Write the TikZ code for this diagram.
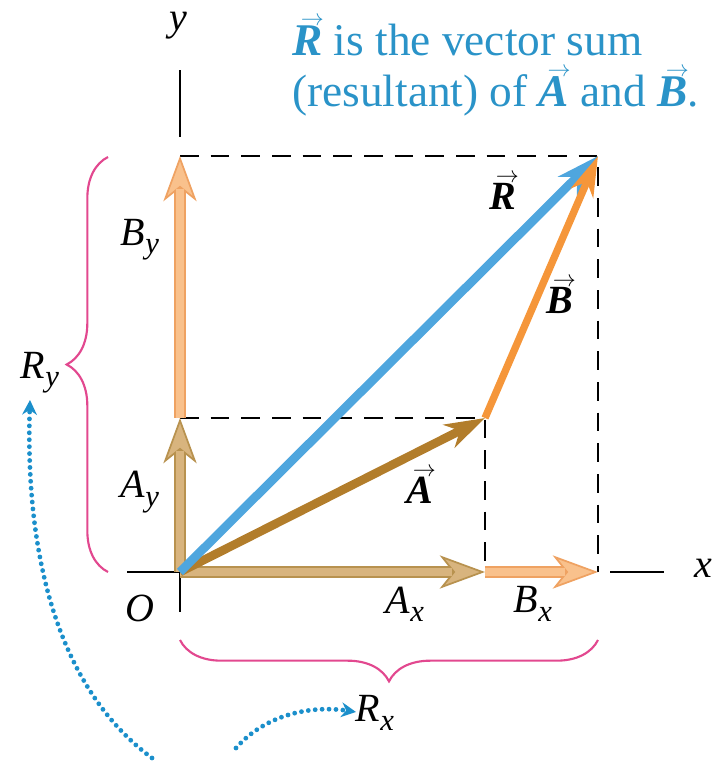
\documentclass[tikz,border=0pt]{standalone}
\usepackage{fontspec}
\setmainfont{Liberation Serif}
\usetikzlibrary{arrows.meta,decorations.pathreplacing,calc}
\definecolor{rblue}{HTML}{4FA6DE}
\definecolor{tblue}{HTML}{2A93C8}
\definecolor{dblue}{HTML}{1B8FCB}
\definecolor{abrown}{HTML}{B27D2B}
\definecolor{borange}{HTML}{F5963A}
\definecolor{acfill}{HTML}{D8B47E}
\definecolor{acline}{HTML}{B8924F}
\definecolor{bcfill}{HTML}{F9C18C}
\definecolor{bcline}{HTML}{EFA262}
\definecolor{bracec}{HTML}{E2488F}
\newcommand\vlab[1]{\setbox0\hbox{\bfseries\itshape #1}\hbox{\rlap{\hbox to \wd0{\hss\hskip0.22em\smash{\raisebox{0.66em}{\fontsize{17}{17}\selectfont$\rightarrow$}}\hss}}\box0}}
\newcommand\comp[2]{\textit{#1}\raisebox{-0.45ex}{\fontsize{23}{25}\selectfont\textit{#2}}}
\tikzset{
  lab/.style={inner sep=0pt, font=\fontsize{30}{34}\selectfont},
  ttl/.style={inner sep=0pt, text=tblue, anchor=base west, font=\fontsize{34}{39}\selectfont},
  dashline/.style={black, line width=2pt, dash pattern=on 14pt off 9pt},
  axis/.style={black, line width=2pt},
  vecR/.style={rblue, line width=6.5pt, -{Stealth[length=32pt,width=20pt,inset=10pt]}},
  vecA/.style={abrown, line width=6.5pt, -{Stealth[length=30pt,width=19pt,inset=9pt]}},
  vecB/.style={borange, line width=5.5pt, -{Stealth[length=30pt,width=18pt,inset=9pt]}},
  compout/.style={line width=9pt, -{Stealth[length=34pt,width=25pt,inset=10pt,line width=1.3pt,fill=#1]}},
  compin/.style={#1, line width=6pt, shorten >=25pt},
  bracestyle/.style={bracec, line width=1.6pt, decorate, decoration={brace, amplitude=31pt}},
  dotarc/.style={dblue, line width=3.6pt, line cap=round, dash pattern=on 0pt off 5.2pt, -{Stealth[length=11pt,width=11pt]}}
}
\begin{document}
\begin{tikzpicture}[x=0.75pt,y=-0.75pt]
\useasboundingbox (0,0) rectangle (717,761);
% key points
\coordinate (O) at (180,572);
\coordinate (Atip) at (485,418);
\coordinate (Rtip) at (598,156);
\coordinate (Axe) at (485,572);
\coordinate (Rxe) at (598,572);
\coordinate (Aye) at (180,418);
\coordinate (Rye) at (180,156);
\coordinate (ytop) at (180,70);
\coordinate (ygap) at (180,137);
\coordinate (ybot) at (180,612);
\coordinate (xleft) at (127,572);
\coordinate (xr1) at (610,572);
\coordinate (xr2) at (664,572);
% dashed lines
\draw[dashline] (Rye) -- (Rtip) -- (Rxe);
\draw[dashline] (Aye) -- (Atip) -- (Axe);
% axes
\draw[axis] (ytop) -- (ygap);
\draw[axis] (O) -- (ybot);
\draw[axis] (xleft) -- (O);
\draw[axis] (xr1) -- (xr2);
% component arrows
\draw[acline, compout=acfill] (O) -- (Axe);
\draw[compin=acfill] (O) -- (Axe);
\draw[bcline, compout=bcfill] (Axe) -- (Rxe);
\draw[compin=bcfill] (Axe) -- (Rxe);
\draw[bcline, compout=bcfill] (Aye) -- (Rye);
\draw[compin=bcfill] (Aye) -- (Rye);
\draw[acline, compout=acfill] (O) -- (Aye);
\draw[compin=acfill] (O) -- (Aye);
% vectors
\draw[vecA] (O) -- (Atip);
\draw[vecR] (O) -- (Rtip);
\draw[vecB] (Atip) -- (Rtip);
% braces
\coordinate (lb1) at (108,572);
\coordinate (lb2) at (108,157);
\coordinate (bb1) at (598,640);
\coordinate (bb2) at (180,640);
\draw[bracestyle] (lb1) -- (lb2);
\draw[bracestyle] (bb1) -- (bb2);
% dotted arcs
\coordinate (d1s) at (152,758);
\coordinate (d1e) at (30,400);
\coordinate (d2s) at (236,748);
\coordinate (d2e) at (356,712);
\draw[dotarc] (d1s) .. controls (60,690) and (25,560) .. (d1e);
\draw[dotarc] (d2s) .. controls (265,715) and (310,705) .. (d2e);
% labels
\node[ttl] (t1) at (292,55) {\vlab{R} is the vector sum};
\node[ttl] (t2) at (292,106) {(resultant) of \vlab{A} and \vlab{B}.};
\node[lab] (ylab) at (178,26) {\textit{y}};
\node[lab] (xlab) at (703,568) {\textit{x}};
\node[lab] (Olab) at (140,608) {\textit{O}};
\node[lab] (Axlab) at (405,604) {\comp{A}{x}};
\node[lab] (Bxlab) at (533,604) {\comp{B}{x}};
\node[lab] (Rxlab) at (375,713) {\comp{R}{x}};
\node[lab] (Aylab) at (140,492) {\comp{A}{y}};
\node[lab] (Bylab) at (140,240) {\comp{B}{y}};
\node[lab] (Rylab) at (40,373) {\comp{R}{y}};
\node[lab] (Rvlab) at (503,196) {\vlab{R}};
\node[lab] (Bvlab) at (560,300) {\vlab{B}};
\node[lab] (Avlab) at (420,490) {\vlab{A}};
\end{tikzpicture}
\end{document}
